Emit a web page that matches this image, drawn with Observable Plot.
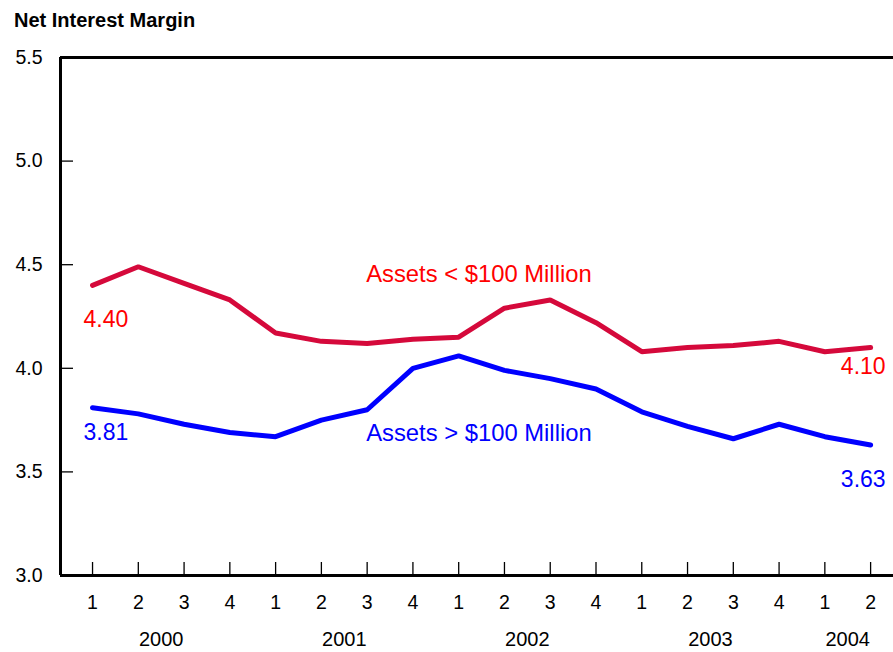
<!DOCTYPE html>
<html>
<head>
<meta charset="utf-8">
<script src="https://cdn.jsdelivr.net/npm/d3@7"></script>
<script src="https://cdn.jsdelivr.net/npm/@observablehq/plot@0.6"></script>
<style>
  html, body { margin: 0; padding: 0; background: #fff; }
  body { width: 893px; height: 652px; overflow: hidden; font-family: "Liberation Sans", Arial, sans-serif; }
  #title { height: 40px; line-height: 41px; padding-left: 14px; font-size: 20px; font-weight: bold; color: #000; }
  svg { display: block; }
</style>
</head>
<body>
<div id="title">Net Interest Margin</div>
<div id="chart"></div>
<script>
// ---- data ----
const quarterLabels = ["1","2","3","4","1","2","3","4","1","2","3","4","1","2","3","4","1","2"];
const quarterYears  = [2000,2000,2000,2000,2001,2001,2001,2001,2002,2002,2002,2002,2003,2003,2003,2003,2004,2004];
const years = [2000, 2001, 2002, 2003, 2004];
const smallBanks = [4.40, 4.49, 4.41, 4.33, 4.17, 4.13, 4.12, 4.14, 4.15, 4.29, 4.33, 4.22, 4.08, 4.10, 4.11, 4.13, 4.08, 4.10];
const largeBanks = [3.81, 3.78, 3.73, 3.69, 3.67, 3.75, 3.80, 4.00, 4.06, 3.99, 3.95, 3.90, 3.79, 3.72, 3.66, 3.73, 3.67, 3.63];
const yTicks = [3.0, 3.5, 4.0, 4.5, 5.0, 5.5];
const seriesNames = ["Assets < $100 Million", "Assets > $100 Million"];

// ---- layout ----
const W = 893, H = 612;
const mL = 60, mR = 0, mT = 17, mB = 77;
const xDomain = [0.3, 18.5];
const yDomain = [3.0, 5.5];
const pxX = (W - mL - mR) / (xDomain[1] - xDomain[0]);
const pxY = (H - mT - mB) / (yDomain[1] - yDomain[0]);
const tickLen = 13;

const RED_LINE = "#d5093b";
const RED_TEXT = "#ff0000";
const BLUE = "#0000ff";

const idx = quarterLabels.map((_, i) => i + 1);
const small = smallBanks.map((v, i) => ({x: i + 1, y: v}));
const large = largeBanks.map((v, i) => ({x: i + 1, y: v}));
const yearCenters = years.map(yr => {
  const xs = idx.filter((_, i) => quarterYears[i] === yr);
  return {x: d3.mean(xs), label: String(yr)};
});
const last = idx.length - 1;

const chart = Plot.plot({
  width: W, height: H,
  marginLeft: mL, marginRight: mR, marginTop: mT, marginBottom: mB,
  style: {fontFamily: "'Liberation Sans', Arial, sans-serif", fontSize: "19.5px", color: "#000", background: "#fff"},
  x: {domain: xDomain, axis: null},
  y: {domain: yDomain, ticks: yTicks, tickFormat: d => d.toFixed(1), tickSize: 0, tickPadding: 18, label: null},
  marks: [
    // inward tick marks
    Plot.ruleY(yTicks.slice(1, -1), {x1: xDomain[0], x2: xDomain[0] + tickLen / pxX, stroke: "#000", strokeWidth: 1.3}),
    Plot.ruleX(idx, {y1: yDomain[0], y2: yDomain[0] + tickLen / pxY, stroke: "#000", strokeWidth: 1.3}),
    // frame lines
    Plot.ruleY([yDomain[1]], {stroke: "#000", strokeWidth: 3}),
    Plot.ruleY([yDomain[0]], {stroke: "#000", strokeWidth: 3}),
    Plot.ruleX([xDomain[0]], {stroke: "#000", strokeWidth: 3}),
    // series
    Plot.line(small, {x: "x", y: "y", stroke: RED_LINE, strokeWidth: 5, strokeLinejoin: "miter"}),
    Plot.line(large, {x: "x", y: "y", stroke: BLUE, strokeWidth: 5, strokeLinejoin: "miter"}),
    // x labels
    Plot.text(idx, {x: d => d, text: (d, i) => quarterLabels[i], frameAnchor: "bottom", dy: 33, fontSize: 19.5}),
    Plot.text(yearCenters, {x: "x", text: "label", frameAnchor: "bottom", dy: 70, fontSize: 20}),
    // value labels
    Plot.text([small[0]], {x: "x", y: "y", text: d => d.y.toFixed(2), textAnchor: "start", dx: -9, dy: 34, fill: RED_TEXT, fontSize: 23}),
    Plot.text([large[0]], {x: "x", y: "y", text: d => d.y.toFixed(2), textAnchor: "start", dx: -9, dy: 25, fill: BLUE, fontSize: 23}),
    Plot.text([small[last]], {x: "x", y: "y", text: d => d.y.toFixed(2), textAnchor: "end", dx: 15, dy: 19, fill: RED_TEXT, fontSize: 23}),
    Plot.text([large[last]], {x: "x", y: "y", text: d => d.y.toFixed(2), textAnchor: "end", dx: 15, dy: 35, fill: BLUE, fontSize: 23}),
    // series names
    Plot.text([small[6]], {x: "x", y: "y", text: () => seriesNames[0], textAnchor: "start", dx: -1, dy: -69, fill: RED_TEXT, fontSize: 23.8}),
    Plot.text([large[6]], {x: "x", y: "y", text: () => seriesNames[1], textAnchor: "start", dx: -1, dy: 24, fill: BLUE, fontSize: 23.8})
  ]
});
document.getElementById("chart").appendChild(chart);
</script>
</body>
</html>
